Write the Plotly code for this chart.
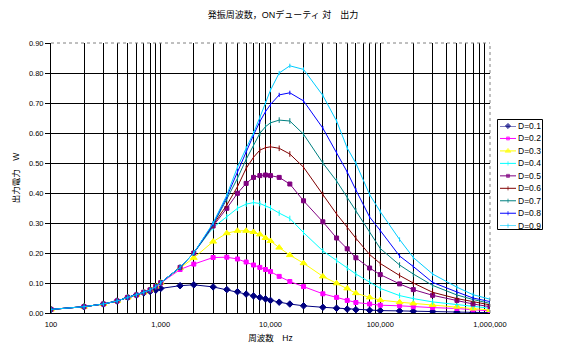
import plotly.graph_objects as go

freq = [100, 200, 300, 400, 500, 600, 700, 800, 900, 1000, 1500, 2000, 3000, 4000, 5000,
        6000, 7000, 8000, 9000, 10000, 12000, 15000, 20000, 30000, 40000, 50000, 60000,
        80000, 100000, 150000, 200000, 300000, 500000, 700000, 1000000]

d01 = [0.012, 0.021, 0.030, 0.040, 0.052, 0.060, 0.067, 0.072, 0.076, 0.082, 0.091, 0.094, 0.087, 0.078, 0.071,
       0.063, 0.057, 0.052, 0.047, 0.042, 0.036, 0.030, 0.024, 0.019, 0.016, 0.013, 0.011,
       0.009, 0.008, 0.007, 0.006, 0.005, 0.003, 0.002, 0.001]
d02 = [0.012, 0.021, 0.030, 0.040, 0.052, 0.060, 0.069, 0.077, 0.088, 0.100, 0.145, 0.163, 0.185, 0.186, 0.180,
       0.170, 0.160, 0.152, 0.145, 0.138, 0.122, 0.105, 0.088, 0.064, 0.052, 0.042, 0.035,
       0.030, 0.026, 0.024, 0.021, 0.018, 0.015, 0.011, 0.007]
d03 = [0.012, 0.021, 0.030, 0.040, 0.052, 0.060, 0.069, 0.077, 0.088, 0.101, 0.150, 0.184, 0.238, 0.266, 0.274,
       0.274, 0.270, 0.262, 0.250, 0.240, 0.218, 0.193, 0.166, 0.122, 0.099, 0.082, 0.066,
       0.052, 0.043, 0.036, 0.032, 0.027, 0.021, 0.015, 0.010]
d04 = [0.012, 0.021, 0.030, 0.040, 0.052, 0.060, 0.069, 0.077, 0.088, 0.101, 0.152, 0.200, 0.285, 0.321, 0.349,
       0.363, 0.368, 0.365, 0.358, 0.350, 0.333, 0.315, 0.268, 0.207, 0.175, 0.150, 0.130,
       0.103, 0.082, 0.058, 0.048, 0.037, 0.028, 0.021, 0.016]
d05 = [0.012, 0.021, 0.030, 0.040, 0.052, 0.060, 0.069, 0.077, 0.088, 0.101, 0.152, 0.200, 0.290, 0.349, 0.399,
       0.432, 0.452, 0.458, 0.460, 0.458, 0.452, 0.430, 0.374, 0.304, 0.250, 0.214, 0.184,
       0.150, 0.128, 0.097, 0.078, 0.059, 0.042, 0.030, 0.021]
d06 = [0.012, 0.021, 0.030, 0.040, 0.052, 0.060, 0.069, 0.077, 0.088, 0.101, 0.152, 0.200, 0.293, 0.360, 0.421,
       0.482, 0.519, 0.543, 0.551, 0.554, 0.549, 0.530, 0.486, 0.395, 0.330, 0.286, 0.249,
       0.195, 0.165, 0.125, 0.100, 0.069, 0.048, 0.038, 0.027]
d07 = [0.012, 0.021, 0.030, 0.040, 0.052, 0.060, 0.069, 0.077, 0.088, 0.101, 0.152, 0.200, 0.295, 0.380, 0.449,
       0.512, 0.560, 0.599, 0.621, 0.634, 0.643, 0.640, 0.596, 0.500, 0.440, 0.385, 0.340,
       0.270, 0.215, 0.160, 0.130, 0.092, 0.060, 0.045, 0.032]
d08 = [0.012, 0.021, 0.030, 0.040, 0.052, 0.060, 0.069, 0.077, 0.088, 0.101, 0.152, 0.200, 0.297, 0.388, 0.471,
       0.538, 0.593, 0.638, 0.671, 0.695, 0.727, 0.734, 0.707, 0.616, 0.535, 0.470, 0.410,
       0.320, 0.275, 0.190, 0.155, 0.102, 0.070, 0.050, 0.038]
d09 = [0.012, 0.021, 0.030, 0.040, 0.052, 0.060, 0.069, 0.077, 0.088, 0.101, 0.152, 0.200, 0.300, 0.393, 0.486,
       0.549, 0.600, 0.652, 0.700, 0.743, 0.800, 0.824, 0.812, 0.725, 0.640, 0.550, 0.499,
       0.395, 0.338, 0.245, 0.185, 0.130, 0.086, 0.061, 0.046]

names = ["D=0.1", "D=0.2", "D=0.3", "D=0.4", "D=0.5", "D=0.6", "D=0.7", "D=0.8", "D=0.9"]
series = [d01, d02, d03, d04, d05, d06, d07, d08, d09]
colors = ["#000080", "#FF00FF", "#FFFF00", "#00FFFF", "#800080", "#800000", "#008080", "#0000FF", "#00CCFF"]
symbols = ["diamond", "square", "triangle-up", "line-ns", "square", "line-ns", "line-ns", "line-ns", "line-ns"]
msizes = [5, 4, 6, 4, 4, 4, 4, 3, 3]

x_major = [100, 1000, 10000, 100000, 1000000]
x_major_text = ["100", "1,000", "10,000", "100,000", "1,000,000"]
x_minor = [m * 10 ** e for e in range(2, 6) for m in range(2, 10)]

FONT = "Liberation Sans, Noto Sans CJK JP, sans-serif"

# page offset of the figure inside the browser window (default body margin)
OFF = 8
W, H = 567 - OFF, 355 - OFF
PL, PR, PT, PB = 51, 490, 43, 313          # plot area in window pixels
ML, MT = PL - OFF, PT - OFF
MB = H + OFF - PB
MR = 10
area_w = W - ML - MR


def px(xabs):
    return (xabs - PL) / area_w


def py(yabs):
    return (PB - yabs) / (PB - PT)


fig = go.Figure()
for name, ys, c, s, ms in zip(names, series, colors, symbols, msizes):
    fig.add_trace(go.Scatter(
        x=freq, y=ys, name=name, mode="lines+markers", showlegend=False,
        line=dict(color=c, width=1),
        marker=dict(symbol=s, size=ms, color=c, line=dict(color=c, width=1)),
    ))

# custom compact legend (drawn on its own small axes)
n = len(names)
for i, (name, c, s, ms) in enumerate(zip(names, colors, symbols, msizes)):
    fig.add_trace(go.Scatter(
        x=[0, 0.5, 1], y=[-i, -i, -i], xaxis="x2", yaxis="y2",
        mode="lines+markers", showlegend=False, hoverinfo="skip", cliponaxis=False,
        line=dict(color=c, width=1),
        marker=dict(symbol=s, size=[0, max(ms - 1, 3), 0], color=c, line=dict(color=c, width=1)),
    ))
    fig.add_annotation(text=name, xref="paper", yref="y2", x=px(517), y=-i,
                       xanchor="left", yanchor="middle", showarrow=False, borderpad=0,
                       font=dict(size=8.5, color="black"))

fig.add_shape(type="rect", xref="paper", yref="paper",
              x0=px(497.5), x1=px(542.5), y0=py(229.5), y1=py(119.5),
              line=dict(color="black", width=1), fillcolor="rgba(0,0,0,0)", layer="below")
# grey plot-area border (top and right)
fig.add_shape(type="line", xref="paper", yref="paper", x0=0, x1=px(PR), y0=1, y1=1,
              line=dict(color="#808080", width=1, dash="dot"), layer="above")
fig.add_shape(type="line", xref="paper", yref="paper", x0=px(PR), x1=px(PR), y0=0, y1=1,
              line=dict(color="#808080", width=1, dash="dot"), layer="above")

fig.update_layout(
    width=W, height=H, autosize=False,
    margin=dict(l=ML, r=MR, t=MT, b=MB, pad=0, autoexpand=False),
    paper_bgcolor="white", plot_bgcolor="white",
    font=dict(family=FONT, size=8, color="black"),
    title=dict(text="発振周波数，ONデューティ 対　出力", xref="container", x=(283 - OFF) / W,
               xanchor="center", yref="container", y=1 - (15 - OFF) / H, yanchor="middle",
               font=dict(size=9), automargin=False),
    showlegend=False,
    xaxis=dict(
        domain=[0, px(PR)], automargin=False,
        type="log", range=[2, 6],
        tickvals=x_major, ticktext=x_major_text, tickfont=dict(size=7.5),
        showgrid=True, gridcolor="black", gridwidth=1,
        minor=dict(tickvals=x_minor, showgrid=True, gridcolor="black", gridwidth=1, ticks=""),
        showline=True, linecolor="black", linewidth=1,
        ticks="", zeroline=False, ticklabelstandoff=4,
        title=dict(text="周波数　Hz", font=dict(size=8.5), standoff=7),
    ),
    yaxis=dict(
        automargin=False,
        range=[0, 0.9], dtick=0.1, tickformat=".2f", tickfont=dict(size=7.5),
        showgrid=True, gridcolor="black", gridwidth=1,
        showline=True, linecolor="black", linewidth=1,
        ticks="outside", ticklen=5, tickcolor="black", zeroline=False,
        title=dict(text="出力電力　W", font=dict(size=8.5), standoff=7),
    ),
    xaxis2=dict(domain=[px(500), px(516)], range=[0, 1], visible=False, anchor="y2", automargin=False),
    yaxis2=dict(domain=[py(225.7), py(126)], range=[-(n - 1), 0], visible=False, anchor="x2", automargin=False),
)
fig.write_html("out.html")
